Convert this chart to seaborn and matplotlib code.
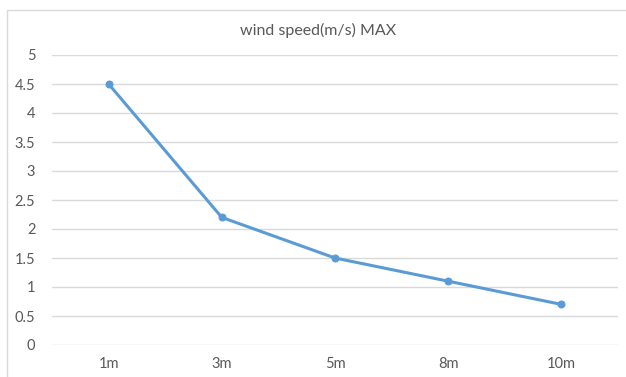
import pandas as pd
import matplotlib.pyplot as plt
import seaborn as sns
from matplotlib.patches import Rectangle

# data
heights = ["1m", "3m", "5m", "8m", "10m"]
wind_max = [4.5, 2.2, 1.5, 1.1, 0.7]
y_ticks = [0, 0.5, 1, 1.5, 2, 2.5, 3, 3.5, 4, 4.5, 5]

sns.set_theme(style="white")
plt.rcParams['font.family'] = ['Lato', 'DejaVu Sans']

df = pd.DataFrame({"height": heights, "wind": wind_max})

fig = plt.figure(figsize=(6.26, 3.77), dpi=100)
ax = fig.add_axes([52 / 626, 1 - 345 / 377, 566 / 626, 290 / 377])

sns.lineplot(data=df, x="height", y="wind", ax=ax, sort=False,
             color="#5B9BD5", linewidth=2.2, marker="o", markersize=5,
             markeredgecolor="#5B9BD5")

ax.set_xlim(-0.5, len(heights) - 0.5)
ax.set_ylim(0, 5)
ax.set_yticks(y_ticks)
ax.set_yticklabels([f"{t:g}" for t in y_ticks])
ax.yaxis.grid(True, color="#D9D9D9", linewidth=1)
ax.set_axisbelow(True)
for s in ax.spines.values():
    s.set_visible(False)
ax.tick_params(axis="both", length=0, labelsize=10.5, colors="#595959")
ax.tick_params(axis="y", pad=12)
ax.tick_params(axis="x", pad=9)
ax.set_xlabel("")
ax.set_ylabel("")

fig.text(318 / 626, 1 - 30 / 377, "wind speed(m/s) MAX", ha="center", va="center",
         fontsize=11.5, color="#595959")

# outer chart border
fig.patches.append(Rectangle((7 / 626, -0.1), 1.1, 1 - 10 / 377 + 0.1,
                             transform=fig.transFigure, fill=False,
                             edgecolor="#D9D9D9", linewidth=1))

fig.savefig("out.png", dpi=100)
